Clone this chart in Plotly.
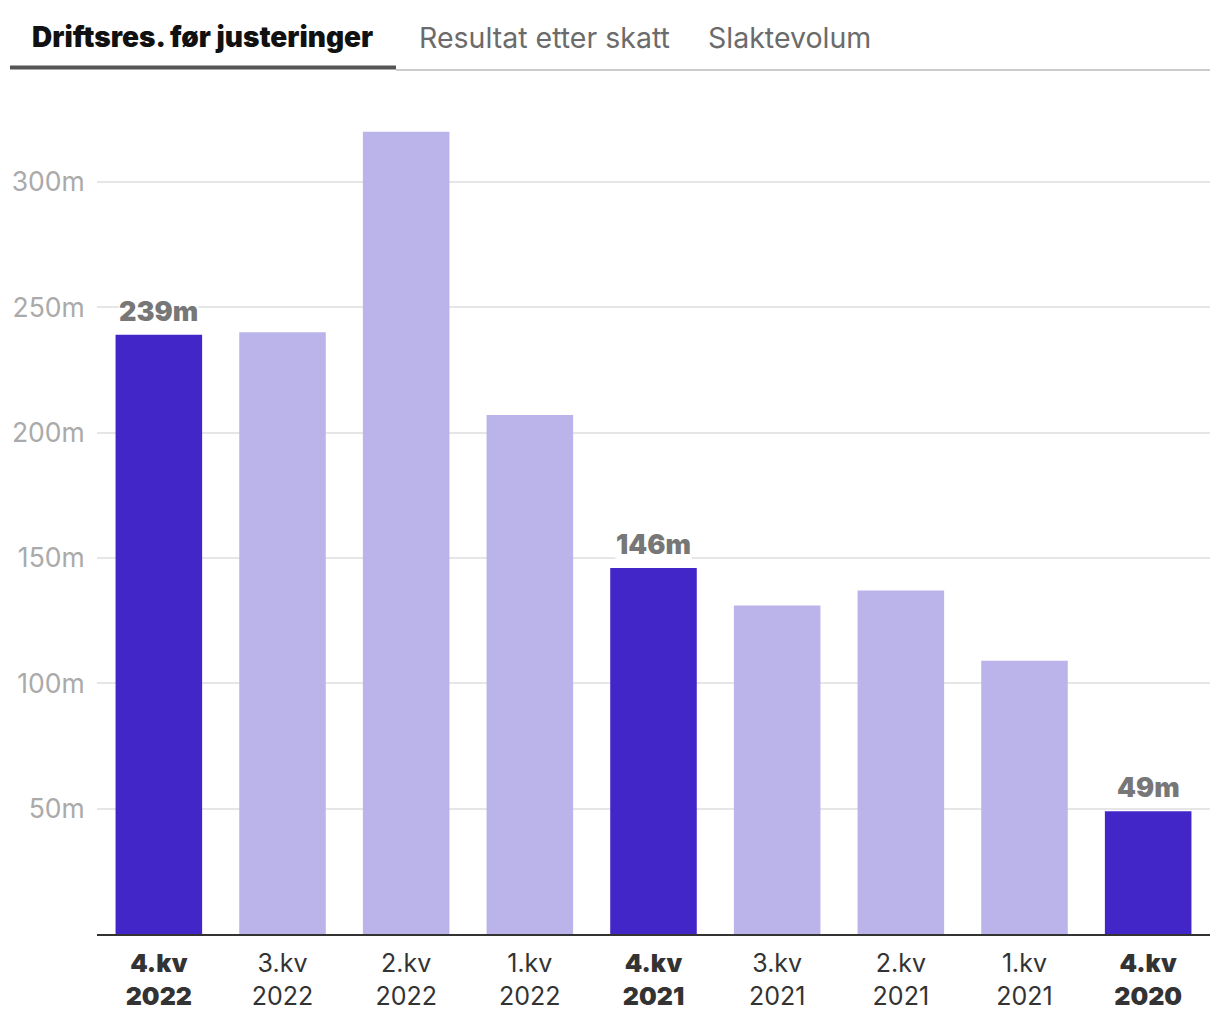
import plotly.graph_objects as go

# ---- data ----
quarters = ["4.kv", "3.kv", "2.kv", "1.kv", "4.kv", "3.kv", "2.kv", "1.kv", "4.kv"]
years = ["2022", "2022", "2022", "2022", "2021", "2021", "2021", "2021", "2020"]
values = [239, 240, 320, 207, 146, 131, 137, 109, 49]
highlight = [True, False, False, False, True, False, False, False, True]
y_ticks = [50, 100, 150, 200, 250, 300]
y_tick_labels = ["50m", "100m", "150m", "200m", "250m", "300m"]
tabs = ["Driftsres. før justeringer", "Resultat etter skatt", "Slaktevolum"]

DARK = "#4326C8"
LIGHT = "#BBB4EA"
FONT = "Inter"

OFF = 8  # page body margin
W, H = 1220, 1020
L, R, T, B = 97 - OFF, 10 + OFF, 100 - OFF, 86 + OFF
PW, PH = W - L - R, H - T - B


def px(x):
    return (x - OFF - L) / PW


def py(y):
    return 1 - (y - OFF - T) / PH


def heavy(s):
    return f'<span style="font-weight:900">{s}</span>'


cats = list(range(len(values)))
colors = [DARK if h else LIGHT for h in highlight]
ticktext = [
    (f"{heavy(q)}<br>{heavy(y)}" if h else f"{q}<br>{y}")
    for q, y, h in zip(quarters, years, highlight)
]

fig = go.Figure(
    go.Bar(
        x=cats,
        y=values,
        marker=dict(color=colors, line=dict(width=0)),
        width=0.7,
        hoverinfo="skip",
    )
)

annotations = []
for i, (v, h) in enumerate(zip(values, highlight)):
    if h:
        annotations.append(
            dict(
                x=i, y=v, xref="x", yref="y",
                text=f"{v}m",
                showarrow=False,
                yanchor="bottom",
                yshift=6,
                font=dict(family=FONT, size=27, color="#777777", weight=900),
                bgcolor="white",
                borderpad=0,
            )
        )

# tabs
tab_x = [30, 417, 706]
for i, (t, x) in enumerate(zip(tabs, tab_x)):
    annotations.append(
        dict(
            x=px(x), y=py(37), xref="paper", yref="paper",
            text=t,
            showarrow=False, xanchor="left", yanchor="middle",
            font=dict(family=FONT, size=28.5 if i else 28,
                      color="#111111" if i == 0 else "#6b6b6b",
                      weight=900 if i == 0 else 400),
        )
    )

shapes = [
    dict(type="line", xref="paper", yref="paper",
         x0=px(396), x1=px(1210), y0=py(70), y1=py(70),
         line=dict(color="#cccccc", width=2)),
    dict(type="line", xref="paper", yref="paper",
         x0=px(10), x1=px(396), y0=py(67.5), y1=py(67.5),
         line=dict(color="#555555", width=4)),
]

fig.update_layout(
    width=W, height=H,
    margin=dict(l=L, r=R, t=T, b=B, autoexpand=False),
    paper_bgcolor="white",
    plot_bgcolor="white",
    showlegend=False,
    annotations=annotations,
    shapes=shapes,
    font=dict(family=FONT),
    bargap=0.3,
)

fig.update_xaxes(
    tickmode="array",
    tickvals=cats,
    ticktext=ticktext,
    range=[-0.5, len(values) - 0.5],
    showgrid=False,
    showline=True,
    linecolor="#333333",
    linewidth=2,
    ticks="",
    ticklabelstandoff=6,
    automargin=False,
    tickfont=dict(family=FONT, size=25, color="#333333"),
    fixedrange=True,
)

fig.update_yaxes(
    range=[0, PH / 2.507],
    tickmode="array",
    tickvals=y_ticks,
    ticktext=y_tick_labels,
    showgrid=True,
    gridcolor="#e6e6e6",
    gridwidth=2,
    zeroline=False,
    showline=False,
    ticks="outside",
    ticklen=6,
    tickcolor="rgba(0,0,0,0)",
    automargin=False,
    tickfont=dict(family=FONT, size=26.5, color="#aaaaaa"),
    fixedrange=True,
)

fig.write_html("out.html", config={"displayModeBar": False})
